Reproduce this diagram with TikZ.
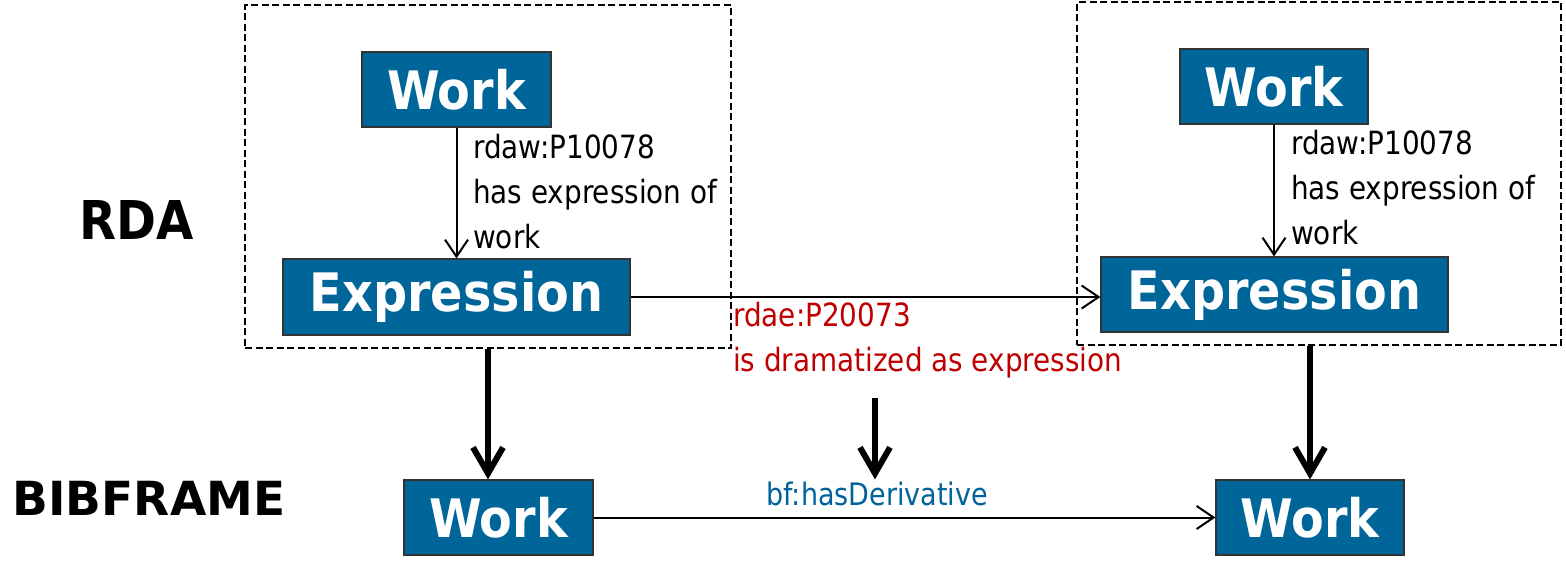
\documentclass[tikz,border=0pt]{standalone}
\usepackage{fontspec}
\setmainfont{DejaVu Sans}[FakeStretch=0.87]
\newfontfamily\narrowsans{DejaVu Sans}[FakeStretch=0.9]
\newfontfamily\plainsans{DejaVu Sans}
\usetikzlibrary{arrows.meta}
\definecolor{boxblue}{RGB}{0,102,153}
\definecolor{relred}{RGB}{192,0,0}
\definecolor{bfblue}{RGB}{0,98,155}
\tikzset{
  entity/.style={draw=black!80, line width=1.2pt, fill=boxblue, text=white,
    font=\narrowsans\bfseries\fontsize{53}{53}\selectfont, inner sep=0pt},
  workbox/.style={entity, minimum width=189pt, minimum height=75pt},
  exprbox/.style={entity, minimum width=347pt, minimum height=76pt},
  frame/.style={draw, dash pattern=on 7pt off 3.5pt, line width=2.4pt, inner sep=0pt},
  rel/.style={line width=2pt, -{Straight Barb[length=17pt,width=23pt,line width=2pt]}},
  map/.style={line width=6pt, -{Straight Barb[length=26pt,width=30pt,line width=6pt]}},
  lbl/.style={font=\fontsize{32}{45}\selectfont, align=left, inner sep=0pt, anchor=north west}
}
\begin{document}
\begin{tikzpicture}[x=1pt, y=-1pt]
  \useasboundingbox (0,0) rectangle (1566,563);

  % RDA groups
  \node[frame, minimum width=486pt, minimum height=343pt] (frameL) at (488,176.5) {};
  \node[frame, minimum width=484pt, minimum height=343pt] (frameR) at (1319,173.5) {};

  \node[workbox] (lw) at (456.5,89.5) {Work};
  \node[exprbox] (le) at (456.5,297) {Expression};
  \node[workbox, minimum width=188pt] (rw) at (1274,86.5) {Work};
  \node[exprbox, minimum height=75pt] (re) at (1274.5,294.5) {Expression};

  % BIBFRAME works
  \node[workbox] (bl) at (498.5,517.5) {Work};
  \node[workbox, minimum width=188pt] (br) at (1310,517.5) {Work};

  % level names
  \node[font=\narrowsans\bfseries\fontsize{53.5}{53.5}\selectfont, inner sep=0pt] (rda) at (137,220) {RDA};
  \node[font=\plainsans\bfseries\fontsize{47}{47}\selectfont, inner sep=0pt] (bib) at (149,498) {BIBFRAME};

  % RDA relationships
  \draw[rel] (lw.south) -- (le.north);
  \node[lbl] (lwlbl) at (473,134) {rdaw:P10078\\has expression of\\work};
  \draw[rel] (rw.south) -- (rw.south |- re.north);
  \node[lbl] (rwlbl) at (1291,130) {rdaw:P10078\\has expression of\\work};

  \draw[rel] (le.east) -- (le.east -| re.west);
  \node[lbl, text=relred] (dram) at (733,302) {rdae:P20073\\is dramatized as expression};

  % mappings to BIBFRAME
  \coordinate (mid) at (875,398);
  \draw[map] (frameL.south) -- (frameL.south |- bl.north);
  \draw[map] (br.north |- frameR.south) -- (br.north);
  \draw[map] (mid) -- (mid |- bl.north);

  % BIBFRAME relationship
  \draw[rel] (bl.east) -- (br.west);
  \node[font=\fontsize{31}{31}\selectfont, text=bfblue, anchor=base, inner sep=0pt] (deriv) at (877,505) {bf:hasDerivative};
\end{tikzpicture}
\end{document}
